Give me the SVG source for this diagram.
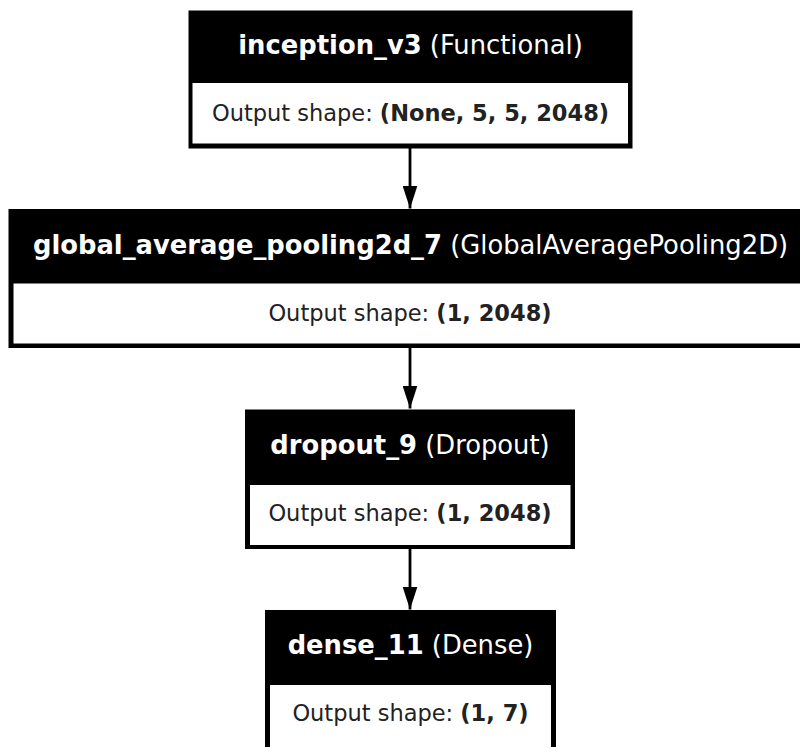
<svg xmlns="http://www.w3.org/2000/svg" width="800" height="747" viewBox="0 0 800 747">
<defs>
<style>
.outer{fill:#000}
.inner{fill:#fff}
.title{font-family:"DejaVu Sans",sans-serif;font-size:25.8px;fill:#fff;text-anchor:middle}
.body{font-family:"DejaVu Sans",sans-serif;font-size:22.5px;fill:#222;text-anchor:middle}
.b{font-weight:bold}
.edge{stroke:#000;stroke-width:2.8;fill:none}
</style>
<marker id="arr" markerWidth="23" markerHeight="15" refX="23" refY="7.5" markerUnits="userSpaceOnUse" orient="auto" viewBox="0 0 23 15">
<path d="M0,0 L23,7.5 L0,15 Z" fill="#000"/>
</marker>
</defs>
<rect width="800" height="747" fill="#fff"/>
<g id="connectors">
<line class="edge" x1="410" y1="148" x2="410" y2="208.5" marker-end="url(#arr)"/>
<line class="edge" x1="410" y1="348" x2="410" y2="408.5" marker-end="url(#arr)"/>
<line class="edge" x1="410" y1="549" x2="410" y2="609.5" marker-end="url(#arr)"/>
</g>
<g id="inception_v3">
<rect class="outer" x="188.5" y="10.5" width="444" height="138"/>
<rect class="inner" x="192.5" y="83" width="435.5" height="60.5"/>
<text class="title" x="410.5" y="54"><tspan class="b">inception_v3</tspan> (Functional)</text>
<text class="body" x="410.5" y="121">Output shape: <tspan class="b">(None, 5, 5, 2048)</tspan></text>
</g>
<g id="global_average_pooling2d_7">
<rect class="outer" x="8.5" y="209" width="803" height="139"/>
<rect class="inner" x="13.5" y="283.5" width="794" height="60"/>
<text class="title" x="410.5" y="254"><tspan class="b">global_average_pooling2d_7</tspan> (GlobalAveragePooling2D)</text>
<text class="body" x="410" y="320.5">Output shape: <tspan class="b">(1, 2048)</tspan></text>
</g>
<g id="dropout_9">
<rect class="outer" x="245" y="409.5" width="330" height="139.5"/>
<rect class="inner" x="250" y="485" width="320.5" height="60"/>
<text class="title" x="410" y="454"><tspan class="b">dropout_9</tspan> (Dropout)</text>
<text class="body" x="410" y="521">Output shape: <tspan class="b">(1, 2048)</tspan></text>
</g>
<g id="dense_11">
<rect class="outer" x="265" y="610" width="291" height="150"/>
<rect class="inner" x="270" y="685" width="281" height="70"/>
<text class="title" x="410.5" y="654"><tspan class="b">dense_11</tspan> (Dense)</text>
<text class="body" x="410.5" y="720.5">Output shape: <tspan class="b">(1, 7)</tspan></text>
</g>
</svg>
